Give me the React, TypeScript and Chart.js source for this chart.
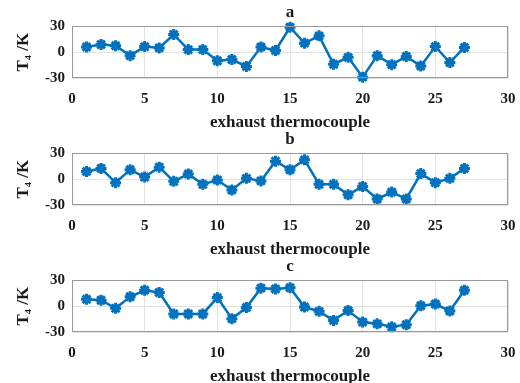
import React, { useEffect, useRef } from "react";
import { Chart, registerables } from "chart.js";

Chart.register(...registerables);

const thermocouples = [1, 2, 3, 4, 5, 6, 7, 8, 9, 10, 11, 12, 13, 14, 15, 16, 17, 18, 19, 20, 21, 22, 23, 24, 25, 26, 27];
const seriesA = [6, 9, 7.5, -4, 6.5, 5, 20.5, 3, 3, -10, -8.5, -16.5, 6, 2, 29, 10.5, 19, -14, -6, -29, -4, -14.5, -5, -16, 6.5, -12, 5.5];
const seriesB = [9, 12.5, -4, 11, 2.5, 14, -2.5, 6, -6, -1, -12.5, 1, -2, 21, 11, 22.5, -6, -6, -18, -8.5, -23, -15, -23, 6.5, -4, 1, 12.5];
const seriesC = [8, 7, -2.5, 11, 18.5, 16, -9, -9, -9, 10, -14.5, -1.5, 21, 20, 21.5, -1, -6, -16.5, -5, -18.5, -20.5, -24, -21.5, 0.5, 2.5, -5.5, 18.5];
const panelTitles = ["a", "b", "c"];
const xAxisLabel = "exhaust thermocouple";
const yAxisLabel = "T₄ /K";

const FONT_FAMILY = "'Liberation Serif', 'Times New Roman', serif";
const TEXT_COLOR = "#1a1a1a";
const LINE_COLOR = "#0072BD";

const boxPlugin = {
  id: "axesBox",
  afterDraw(chart: any) {
    const { ctx, chartArea } = chart;
    ctx.save();
    ctx.strokeStyle = "#9a9a9a";
    ctx.lineWidth = 1;
    ctx.strokeRect(
      Math.round(chartArea.left) + 0.5,
      Math.round(chartArea.top) + 0.5,
      Math.round(chartArea.right - chartArea.left) - 1,
      Math.round(chartArea.bottom - chartArea.top) - 1
    );
    ctx.restore();
  },
};

function Panel({ title, values, top }: { title: string; values: number[]; top: number }) {
  const ref = useRef<HTMLCanvasElement | null>(null);
  useEffect(() => {
    if (!ref.current) return;
    const font = { family: FONT_FAMILY, size: 15, weight: "bold" as const, lineHeight: 1.2 };
    const bigFont = { family: FONT_FAMILY, size: 17, weight: "bold" as const, lineHeight: 1.2 };
    const chart = new Chart(ref.current, {
      type: "line",
      data: {
        datasets: [
          {
            data: thermocouples.map((x, i) => ({ x, y: values[i] })),
            borderColor: LINE_COLOR,
            backgroundColor: LINE_COLOR,
            borderWidth: 2.5,
            pointStyle: "star",
            pointRadius: 5.5,
            pointBorderWidth: 3,
            pointBorderColor: LINE_COLOR,
            tension: 0,
            clip: false as any,
          },
        ],
      },
      options: {
        animation: false,
        responsive: false,
        maintainAspectRatio: false,
        layout: { padding: { left: 0, right: 12, top: 0, bottom: 0 } },
        plugins: {
          legend: { display: false },
          tooltip: { enabled: false },
          title: {
            display: true,
            text: title,
            fullSize: false,
            color: TEXT_COLOR,
            font: bigFont,
            padding: { top: 2, bottom: 4 },
          },
        },
        scales: {
          x: {
            type: "linear",
            min: 0,
            max: 30,
            ticks: { stepSize: 5, padding: 12, color: TEXT_COLOR, font },
            grid: { color: "#e2e2e2", drawTicks: false },
            border: { display: false },
            title: { display: true, text: xAxisLabel, color: TEXT_COLOR, font: bigFont, padding: { top: 0, bottom: 2 } },
            afterFit: (s: any) => {
              s.height = 57;
              s.paddingRight = 0;
              s.paddingLeft = 0;
            },
          },
          y: {
            type: "linear",
            min: -30,
            max: 30,
            ticks: { stepSize: 30, padding: 7, color: TEXT_COLOR, font },
            grid: { color: "#e2e2e2", drawTicks: false },
            border: { display: false },
            title: { display: true, text: yAxisLabel, color: TEXT_COLOR, font: bigFont, padding: { top: 13, bottom: 0 } },
            afterFit: (s: any) => {
              s.width = 72;
            },
          },
        },
      },
      plugins: [boxPlugin],
    });
    return () => chart.destroy();
  }, [title, values]);
  return (
    <canvas
      ref={ref}
      width={520}
      height={135}
      style={{ position: "absolute", left: 0, top, width: 520, height: 135 }}
    />
  );
}

export default function App() {
  const all = [seriesA, seriesB, seriesC];
  return (
    <div
      style={{
        position: "fixed",
        left: 0,
        top: 0,
        width: 520,
        height: 383,
        overflow: "hidden",
        background: "#ffffff",
      }}
    >
      {all.map((vals, i) => (
        <Panel key={panelTitles[i]} title={panelTitles[i]} values={vals} top={i * 127} />
      ))}
    </div>
  );
}
